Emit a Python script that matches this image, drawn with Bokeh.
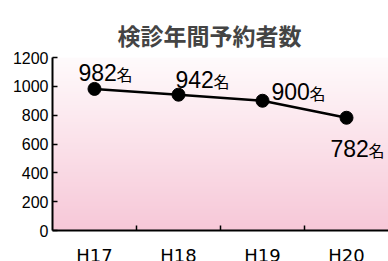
import numpy as np
from bokeh.plotting import figure
from bokeh.models import Range1d, FixedTicker, ColumnDataSource
from bokeh.core.properties import value
from bokeh.embed import file_html
from bokeh.resources import INLINE

title_text = "検診年間予約者数"
categories = ["H17", "H18", "H19", "H20"]
counts = [982, 942, 900, 782]
unit = "名"
y_ticks = [0, 200, 400, 600, 800, 1000, 1200]

# label placement (screen px relative to each point)
lab_dx = [-16, -3, 9, -16]
lab_dy = [-16, -15, -9, 31]

xs = [i + 0.5 for i in range(len(categories))]

p = figure(output_backend="svg", toolbar_location=None,
           x_range=Range1d(0, len(categories)), y_range=Range1d(0, 1200),
           frame_width=336, frame_height=173,
           min_border_left=52, min_border_right=0, min_border_top=57, min_border_bottom=0)

# background gradient
n = 200
top = np.array([255, 251, 252])
bot = np.array([247, 200, 216])
img = np.zeros((n, 1), dtype=np.uint32)
view = img.view(dtype=np.uint8).reshape((n, 1, 4))
for k in range(n):
    t = k / (n - 1)  # 0 at bottom
    c = bot * (1 - t) + top * t
    view[k, 0, 0] = int(c[0]); view[k, 0, 1] = int(c[1]); view[k, 0, 2] = int(c[2]); view[k, 0, 3] = 255
p.image_rgba(image=[img], x=0, y=0, dw=len(categories), dh=1200)

p.title.text = title_text
p.title.text_font = "Noto Sans CJK JP"
p.title.text_font_size = "23px"
p.title.text_font_style = "bold"
p.title.align = "left"
p.title.offset = 65
p.title.standoff = 8
p.title.vertical_align = "top"

p.grid.visible = False
p.outline_line_color = None
p.background_fill_color = None
p.border_fill_color = "white"

xa = p.xaxis[0]
xa.ticker = FixedTicker(ticks=xs, minor_ticks=[1, 2, 3])
xa.major_label_overrides = {x: c for x, c in zip(xs, categories)}
xa.major_tick_line_color = None
xa.minor_tick_in = 5
xa.minor_tick_out = 0
xa.minor_tick_line_color = "black"
xa.minor_tick_line_width = 1.5
xa.axis_line_width = 2
xa.axis_line_color = "black"
xa.major_label_text_font = "DejaVu Sans"
xa.major_label_text_font_size = "18px"
xa.major_label_text_color = "black"
xa.major_label_standoff = 8

ya = p.yaxis[0]
ya.ticker = FixedTicker(ticks=y_ticks)
ya.major_tick_in = 5
ya.major_tick_out = 0
ya.major_tick_line_width = 1.5
ya.minor_tick_line_color = None
ya.axis_line_width = 2
ya.axis_line_color = "black"
ya.major_label_text_font = "Liberation Sans"
ya.major_label_text_font_size = "16px"
ya.major_label_text_color = "black"
ya.major_label_standoff = 4

src = ColumnDataSource(dict(x=xs, y=counts, num=[str(c) for c in counts],
                            u=[unit] * len(counts), dx=lab_dx, dy=lab_dy,
                            ux=[d + 38 for d in lab_dx], uy=[d + 1 for d in lab_dy]))
p.line("x", "y", source=src, line_color="black", line_width=2.5)
p.scatter("x", "y", source=src, size=13, fill_color="black", line_color="black")
p.text("x", "y", text="num", source=src, x_offset="dx", y_offset="dy",
       text_font=value("Liberation Sans"), text_font_size="23px",
       text_baseline="alphabetic", text_align="left", text_color="black")
p.text("x", "y", text="u", source=src, x_offset="ux", y_offset="uy",
       text_font=value("Noto Sans CJK JP"), text_font_size="16px",
       text_baseline="alphabetic", text_align="left", text_color="black")

open("out.html", "w").write(file_html(p, INLINE))
